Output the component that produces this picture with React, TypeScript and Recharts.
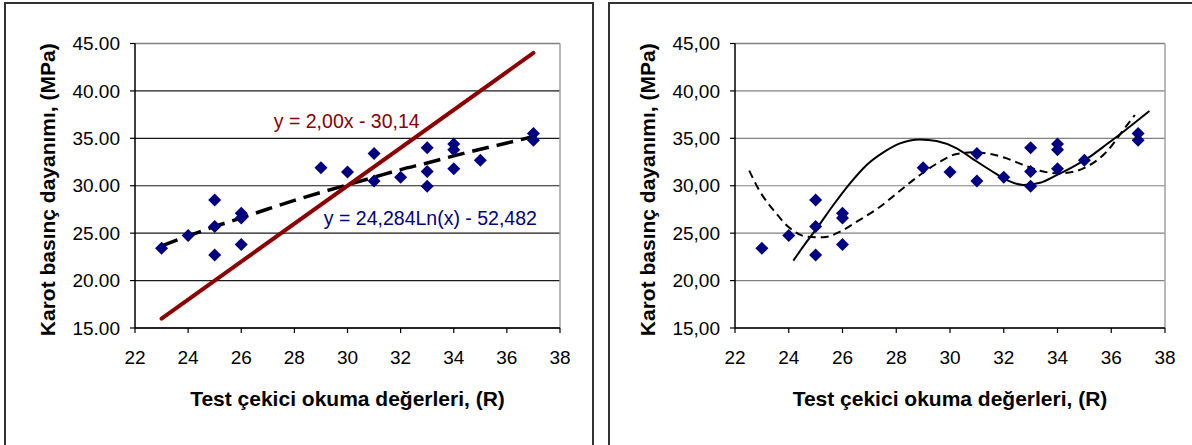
import React from 'react';
import {
  ComposedChart, XAxis, YAxis, CartesianGrid, Scatter, Line, ReferenceLine, ReferenceDot, Label,
} from 'recharts';

// ---------------- data ----------------
const hammerR = [23, 24, 25, 25, 25, 26, 26, 26, 29, 30, 31, 31, 32, 33, 33, 33, 34, 34, 34, 35, 37, 37];
const coreStrength = [23.4, 24.75, 28.5, 25.7, 22.7, 27.1, 26.6, 23.8, 31.9, 31.45, 33.4, 30.5, 30.9, 34.0, 31.5, 29.95, 34.4, 33.8, 31.8, 32.7, 35.5, 34.8];

const linearFitX = [23, 37];
const linearFitY = [16.0, 44.0];

const logFitX = [23, 24, 25, 26, 27, 28, 29, 30, 31, 32, 33, 34, 35, 36, 37];
const logFitY = [23.65, 24.7, 25.7, 26.6, 27.55, 28.45, 29.3, 30.1, 30.9, 31.7, 32.4, 33.15, 33.85, 34.5, 35.2];

const solidCurveX = [24.17, 24.67, 25.04, 25.66, 26.28, 26.9, 27.52, 28.14, 28.88, 29.5, 30.25, 30.87, 31.49, 32.11, 32.73, 33.35, 33.97, 34.59, 35.21, 35.83, 36.45, 37.42];
const solidCurveY = [22.1, 24.1, 25.5, 27.97, 30.25, 32.19, 33.52, 34.47, 34.89, 34.72, 33.95, 32.79, 31.66, 30.61, 30.08, 30.32, 31.13, 32.01, 33.07, 34.37, 35.7, 37.88];

const dashedCurveX = [22.53, 22.93, 23.43, 24.05, 24.67, 25.29, 25.91, 26.53, 27.4, 28.14, 28.88, 29.63, 30.25, 30.87, 31.49, 32.11, 32.73, 33.35, 33.97, 34.59, 35.21, 35.83, 36.45, 36.88];
const dashedCurveY = [31.59, 29.38, 27.44, 25.51, 24.63, 24.56, 25.16, 26.21, 27.79, 29.48, 31.13, 32.54, 33.35, 33.52, 33.35, 32.89, 32.19, 31.59, 31.31, 31.48, 32.19, 33.59, 35.88, 37.46];

const xTicks = [22, 24, 26, 28, 30, 32, 34, 36, 38];
const yTicks = [15, 20, 25, 30, 35, 40, 45];

const xTitle = 'Test çekici okuma değerleri, (R)';
const yTitle = 'Karot basınç dayanımı, (MPa)';
const linearEq = 'y = 2,00x - 30,14';
const logEq = 'y = 24,284Ln(x) - 52,482';

const zip = (xs: number[], ys: number[]) => xs.map((x, i) => ({ x, y: ys[i] }));
const points = zip(hammerR, coreStrength);
const linearFit = zip(linearFitX, linearFitY);
const logFit = zip(logFitX, logFitY);
const solidCurve = zip(solidCurveX, solidCurveY);
const dashedCurve = zip(dashedCurveX, dashedCurveY);

// ---------------- styles ----------------
const FONT = '"Liberation Sans", Arial, Helvetica, sans-serif';
const NAVY = '#000080';
const DARKRED = '#8B0000';

const Diamond = (props: any) => {
  const { cx, cy } = props;
  if (cx == null || cy == null) return null;
  const r = 6.5;
  return <path d={`M${cx},${cy - r}L${cx + r},${cy}L${cx},${cy + r}L${cx - r},${cy}Z`} fill={NAVY} />;
};

const XTitle = (props: any) => {
  const vb = props.viewBox || {};
  return (
    <text x={vb.x + vb.width / 2} y={vb.y + 78} textAnchor="middle" fontFamily={FONT}
      fontWeight="bold" fontSize={21} fill="#000">{xTitle}</text>
  );
};

const YTitle = (props: any) => {
  const vb = props.viewBox || {};
  const x = vb.x + vb.width - 80;
  const y = vb.y + vb.height / 2 + 4;
  return (
    <text x={x} y={y} transform={`rotate(-90, ${x}, ${y})`} textAnchor="middle" fontFamily={FONT}
      fontWeight="bold" fontSize={21} fill="#000">{yTitle}</text>
  );
};

const eqLabel = (text: string, color: string) => (props: any) => {
  const vb = props.viewBox || {};
  const cx = vb.x + (vb.width || 0) / 2;
  const cy = vb.y + (vb.height || 0) / 2;
  return (
    <text x={cx} y={cy} textAnchor="middle" dominantBaseline="central" fontFamily={FONT}
      fontSize={19.5} fill={color}>{text}</text>
  );
};

const tickStyle = { fontSize: 19, fill: '#000', fontFamily: FONT };

type PanelProps = { left: number; yAxisWidth: number; marginRight: number; decimal: string; variant: 'fit' | 'poly' };

const Panel = ({ left, yAxisWidth, marginRight, decimal, variant }: PanelProps) => {
  const gridColor = variant === 'fit' ? '#1a1a1a' : '#808080';
  return (
    <div style={{ position: 'absolute', left, top: 0 }}>
      <ComposedChart width={596} height={445} margin={{ top: 43.5, right: marginRight, bottom: 0, left: 0 }}>
        <CartesianGrid vertical={false} horizontal stroke={gridColor} strokeWidth={1.2} />
        <XAxis dataKey="x" type="number" domain={[22, 38]} ticks={xTicks} interval={0}
          tick={tickStyle} tickSize={5} tickMargin={18} height={117}
          axisLine={{ stroke: '#000', strokeWidth: 1.5 }} tickLine={{ stroke: '#000', strokeWidth: 1.2 }}>
          <Label content={XTitle} />
        </XAxis>
        <YAxis dataKey="y" type="number" domain={[15, 45]} ticks={yTicks} interval={0}
          tick={tickStyle} tickSize={5} tickMargin={10} width={yAxisWidth}
          tickFormatter={(v: number) => v.toFixed(2).replace('.', decimal)}
          axisLine={{ stroke: '#000', strokeWidth: 1.5 }} tickLine={{ stroke: '#000', strokeWidth: 1.2 }}>
          <Label content={YTitle} />
        </YAxis>
        <ReferenceLine y={45} stroke="#808080" strokeWidth={1.5} />
        <ReferenceLine x={38} stroke="#a0a0a0" strokeWidth={1.5} />
        <Scatter data={points} dataKey="y" shape={<Diamond />} isAnimationActive={false} />
        {variant === 'fit' && (
          <Line data={logFit} dataKey="y" type="monotone" stroke="#000" strokeWidth={3.5}
            strokeDasharray="17 8" dot={false} activeDot={false} isAnimationActive={false} />
        )}
        {variant === 'fit' && (
          <Line data={linearFit} dataKey="y" type="linear" stroke={DARKRED} strokeWidth={4}
            strokeLinecap="round" dot={false} activeDot={false} isAnimationActive={false} />
        )}
        {variant === 'fit' && (
          <ReferenceDot x={29.97} y={36.86} r={0} fill="none" stroke="none" label={{ content: eqLabel(linearEq, DARKRED) }} />
        )}
        {variant === 'fit' && (
          <ReferenceDot x={33.12} y={26.6} r={0} fill="none" stroke="none" label={{ content: eqLabel(logEq, NAVY) }} />
        )}
        {variant === 'poly' && (
          <Line data={dashedCurve} dataKey="y" type="monotone" stroke="#000" strokeWidth={2}
            strokeDasharray="8 5" dot={false} activeDot={false} isAnimationActive={false} />
        )}
        {variant === 'poly' && (
          <Line data={solidCurve} dataKey="y" type="monotone" stroke="#000" strokeWidth={2}
            dot={false} activeDot={false} isAnimationActive={false} />
        )}
      </ComposedChart>
    </div>
  );
};

export default function App() {
  return (
    <div style={{ position: 'fixed', left: 0, top: 0, width: 1192, height: 445, overflow: 'hidden', background: '#fff' }}>
      <div style={{ position: 'absolute', left: 4, top: 2, width: 586, height: 470, border: '2px solid #333' }} />
      <div style={{ position: 'absolute', left: 608, top: 2, width: 620, height: 470, border: '2px solid #333' }} />
      <Panel left={0} yAxisWidth={135} marginRight={36} decimal="." variant="fit" />
      <Panel left={596} yAxisWidth={139} marginRight={27} decimal="," variant="poly" />
    </div>
  );
}
